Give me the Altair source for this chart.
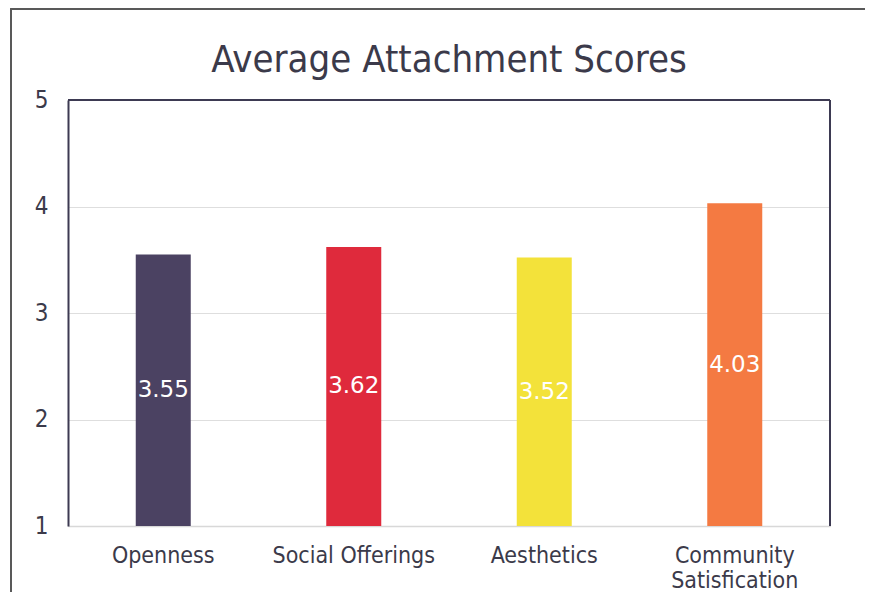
import altair as alt
import pandas as pd

categories = ["Openness", "Social Offerings", "Aesthetics", "Community Satisfication"]
values = [3.55, 3.62, 3.52, 4.03]
colors = ["#4b4262", "#df2a3c", "#f3e23a", "#f47a42"]
baseline = [1, 1, 1, 1]

df = pd.DataFrame({"cat": categories, "val": values, "base": baseline})

FONT = "DejaVu Sans Condensed"
TXT = "#3b3a4a"
DARK = "#3d3a52"

W, H = 762, 426

xenc = alt.X("cat:N", sort=categories, title=None,
             scale=alt.Scale(paddingInner=0.5, paddingOuter=0.25),
             axis=alt.Axis(labelAngle=0, labelFont=FONT, labelFontSize=23, labelColor=TXT,
                           labelPadding=18, labelLineHeight=25, ticks=False,
                           domainColor="#d8d8d8", domainWidth=1.5,
                           labelExpr="datum.label == 'Community Satisfication' ? ['Community', 'Satisfication'] : datum.label"))
yscale = alt.Scale(domain=[1, 5], zero=False, nice=False)

bars = alt.Chart(df).mark_bar(size=55).encode(
    x=xenc,
    y=alt.Y("val:Q", scale=yscale, title=None,
            axis=alt.Axis(values=[1, 2, 3, 4, 5], format="d", labelFont=FONT, labelFontSize=24,
                          labelColor=TXT, labelPadding=20, ticks=False, domainColor=DARK,
                          domainWidth=2, grid=True, gridColor="#dedede", gridWidth=1)),
    y2="base:Q",
    color=alt.Color("cat:N", sort=categories, scale=alt.Scale(domain=categories, range=colors), legend=None),
)

labels = alt.Chart(df).transform_calculate(
    mid="(datum.val + datum.base) / 2"
).mark_text(font="DejaVu Sans", fontSize=23, color="white", baseline="middle").encode(
    x=alt.X("cat:N", sort=categories),
    y=alt.Y("mid:Q", scale=yscale),
    text=alt.Text("val:Q", format=".2f"),
)

top_rule = alt.Chart(df).mark_rule(color=DARK, strokeWidth=2).encode(
    x=alt.value(0), x2=alt.value(W), y=alt.value(0)
)
right_rule = alt.Chart(df).mark_rule(color=DARK, strokeWidth=2).encode(
    x=alt.value(W), y=alt.value(0), y2=alt.value(H)
)

frame = alt.Chart(df).mark_rect(fill=None, stroke="#5a5a5a", strokeWidth=1.5).encode(
    x=alt.value(-57), x2=alt.value(W + 60), y=alt.value(-91), y2=alt.value(H + 100)
)

chart = alt.layer(frame, bars, labels, top_rule, right_rule).properties(
    width=W, height=H,
    title=alt.TitleParams("Average Attachment Scores", font=FONT, fontSize=38, fontWeight="normal",
                          color=TXT, anchor="middle", frame="group", baseline="alphabetic", offset=-102),
    autosize=alt.AutoSizeParams(type="none"),
    padding={"left": 60, "top": 92, "right": 35, "bottom": 66},
).configure_view(stroke=None).configure(background="white")

chart.save("out.html", embed_options={"renderer": "svg", "actions": False})
